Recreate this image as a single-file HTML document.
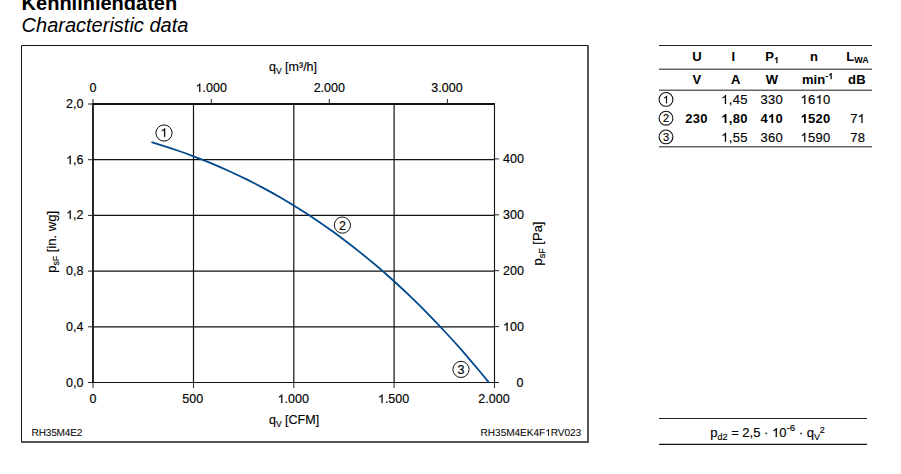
<!DOCTYPE html>
<html><head>
<meta charset="utf-8">
<style>
html,body{margin:0;padding:0;background:#fff;}
body{width:901px;height:474px;position:relative;overflow:hidden;font-family:"Liberation Sans",sans-serif;color:#000;}
.h1{position:absolute;left:21.6px;top:-8px;font-size:20px;font-weight:bold;line-height:22px;white-space:nowrap;}
.h2{position:absolute;left:21.6px;top:14px;font-size:20px;font-style:italic;line-height:22px;white-space:nowrap;}
svg{position:absolute;left:0;top:0;}
svg text{font-family:"Liberation Sans",sans-serif;fill:#000;stroke:#000;stroke-width:0.15px;}
svg g[font-weight="bold"] text{stroke:none;}
.t{}
.s{}
svg text tspan.one{fill:transparent;stroke:none;}
</style>
</head>
<body>
<div class="h1">Kennliniendaten</div>
<div class="h2">Characteristic data</div>

<svg width="901" height="474" viewBox="0 0 901 474">
  <defs>
    <path id="oneR" d="M763,0 L583,0 L583,1102 Q518,1043 412.5,983 Q307,924 214,890 L214,1057 Q382,1133 490,1227 Q598,1320 646,1409 L763,1409 Z"/>
    <path id="oneB" d="M825,0 L544,0 L544,1018 Q390,879 181,813 L181,1058 Q291,1093 415,1186 Q540,1279 590,1409 L825,1409 Z"/>
  </defs>
  <!-- frame -->
  <path d="M21.5,442 V45.5 H588" fill="none" stroke="#111" stroke-width="1"></path>
  <path d="M588,45 V442 H21" fill="none" stroke="#555" stroke-width="2"></path>

  <!-- grid -->
  <g stroke="#111" fill="none">
    <path d="M193.5,104 V382.5 M293.8,104 V382.5 M394.1,104 V382.5" stroke-width="1.2"></path>
    <path d="M93,159.7 H494.4 M93,215.4 H494.4 M93,271.1 H494.4 M93,326.8 H494.4" stroke-width="1.2"></path>
    <path d="M93,382.5 H494.4" stroke-width="1.1"></path>
    <path d="M93,104 H494.4" stroke-width="2"></path>
    <path d="M93,103 V383" stroke-width="1.8"></path>
    <path d="M494.5,103 V383" stroke-width="1.1"></path>
  </g>
  <!-- ticks -->
  <g stroke="#222" fill="none" stroke-width="1">
    <path d="M88,104 H93 M88,159.7 H93 M88,215.4 H93 M88,271.1 H93 M88,326.8 H93 M88,382.5 H93"></path>
    <path d="M494.5,158.9 H499 M494.5,214.8 H499 M494.5,270.7 H499 M494.5,326.6 H499 M494.5,382.5 H499"></path>
    <path d="M93,99 V104 M211.3,99 V104 M329.3,99 V104 M447.4,99 V104"></path>
    <path d="M93,382.5 V388 M193.5,382.5 V388 M293.8,382.5 V388 M394.1,382.5 V388 M494.5,382.5 V388"></path>
  </g>

  <!-- curve -->
  <path d="M151.5,142.2 L160.2,144.8 L168.8,147.6 L177.5,150.5 L186.1,153.5 L194.8,156.8 L203.4,160.1 L212.1,163.6 L220.7,167.3 L229.4,171.2 L238.0,175.2 L246.7,179.4 L255.3,183.8 L264.0,188.4 L272.7,193.1 L281.3,198.0 L290.0,203.2 L298.6,208.5 L307.3,214.0 L315.9,219.7 L324.6,225.7 L333.2,231.8 L341.9,238.2 L350.5,244.8 L359.2,251.6 L367.8,258.6 L376.5,265.8 L385.2,273.3 L393.8,281.0 L402.5,289.0 L411.1,297.2 L419.8,305.7 L428.4,314.4 L437.1,323.3 L445.7,332.5 L454.4,342.0 L463.0,351.7 L471.7,361.8 L480.3,372.0 L489.0,382.6" fill="none" stroke="#00498c" stroke-width="1.8"></path>

  <!-- curve markers -->
  <g fill="#fff" stroke="#111" stroke-width="1">
    <circle cx="164" cy="133" r="8.1"></circle>
    <circle cx="342.4" cy="225.1" r="8.1"></circle>
    <circle cx="461" cy="369.4" r="8.1"></circle>
  </g>
  <g class="t" text-anchor="middle" font-size="12.5">
    <text x="164" y="136.8"><tspan class="one">1</tspan></text>
    <text x="342.4" y="229.5">2</text>
    <text x="461" y="373.7">3</text>
  </g>

  <!-- left axis labels -->
  <g class="t" text-anchor="end" font-size="12.5">
    <text x="83.5" y="107.5">2,0</text>
    <text x="83.5" y="164.2"><tspan class="one">1</tspan>,6</text>
    <text x="83.5" y="218.9"><tspan class="one">1</tspan>,2</text>
    <text x="83.5" y="274.6">0,8</text>
    <text x="83.5" y="331.3">0,4</text>
    <text x="83.5" y="387">0,0</text>
  </g>
  <!-- right axis labels -->
  <g class="t" font-size="12.5">
    <text x="503" y="163.4">400</text>
    <text x="503" y="219.3">300</text>
    <text x="503" y="275.2">200</text>
    <text x="503" y="331.1"><tspan class="one">1</tspan>00</text>
    <text x="516.5" y="387">0</text>
  </g>
  <!-- top axis labels -->
  <g class="t" text-anchor="middle" font-size="12.5">
    <text x="93" y="92">0</text>
    <text x="211.3" y="92"><tspan class="one">1</tspan>.000</text>
    <text x="329.3" y="92">2.000</text>
    <text x="447" y="92">3.000</text>
  </g>
  <!-- bottom axis labels -->
  <g class="t" text-anchor="middle" font-size="12.5">
    <text x="93" y="403">0</text>
    <text x="192.8" y="403">500</text>
    <text x="293.3" y="403"><tspan class="one">1</tspan>.000</text>
    <text x="393.6" y="403"><tspan class="one">1</tspan>.500</text>
    <text x="494" y="403">2.000</text>
  </g>
  <!-- axis titles -->
  <text class="t" x="269" y="71" font-size="12.5">q<tspan font-size="8.5" dy="3">V</tspan><tspan dy="-3"> [m³/h]</tspan></text>
  <text class="t" x="269" y="424" font-size="12.5">q<tspan font-size="8.5" dy="3">V</tspan><tspan dy="-3"> [CFM]</tspan></text>
  <text class="t" transform="translate(55.8,272.8) rotate(-90)" font-size="13">p<tspan font-size="8.8" dy="3">sF</tspan><tspan dy="-3"> [in. wg]</tspan></text>
  <text class="t" transform="translate(541.5,265.5) rotate(-90)" font-size="13">p<tspan font-size="9" dy="3">sF</tspan><tspan dy="-3"> [Pa]</tspan></text>

  <text class="s" x="31.6" y="436" font-size="10.1" letter-spacing="-0.2" style="stroke:none" text-rendering="geometricPrecision">RH35M4E2</text>
  <text class="s" x="480.6" y="436" font-size="10.1" letter-spacing="-0.05" style="stroke:none" text-rendering="geometricPrecision">RH35M4EK4F<tspan class="one">1</tspan>RV023</text>

  <!-- table lines -->
  <g stroke-width="1" fill="none">
    <path d="M659,45.5 H872" stroke="#222"></path>
    <path d="M659,69.2 H872" stroke="#666" stroke-width="1.4"></path>
    <path d="M659,90.3 H872" stroke="#666" stroke-width="1.4"></path>
    <path d="M659,146.8 H872" stroke="#666" stroke-width="1.4"></path>
    <path d="M659,418.5 H867" stroke="#222"></path>
    <path d="M659,444.4 H867" stroke="#111" stroke-width="1.3"></path>
  </g>
  <!-- table text -->
  <g font-size="13" font-weight="bold">
    <text x="692.3" y="60.6">U</text>
    <text x="731.4" y="60.6">I</text>
    <text x="765.2" y="60.6">P<tspan font-size="9" dy="2.6"><tspan class="one">1</tspan></tspan></text>
    <text x="810.1" y="60.6">n</text>
    <text x="846.2" y="60.6">L<tspan font-size="9" dy="2.6">WA</tspan></text>
    <text x="692.6" y="83.8">V</text>
    <text x="731" y="83.8">A</text>
    <text x="765.8" y="83.8">W</text>
    <text x="802" y="83.8">min<tspan font-size="9" dy="-4.5">-<tspan class="one">1</tspan></tspan></text>
    <text x="848" y="83.8" letter-spacing="0.4">dB</text>
  </g>
  <g fill="#fff" stroke="#111" stroke-width="1.1">
    <circle cx="666" cy="99.4" r="6.9"></circle>
    <circle cx="666" cy="118.2" r="6.9"></circle>
    <circle cx="666" cy="136.9" r="6.9"></circle>
  </g>
  <g font-size="11" text-anchor="middle">
    <text x="666" y="103.3"><tspan class="one">1</tspan></text>
    <text x="666" y="122.1">2</text>
    <text x="666" y="140.8">3</text>
  </g>
  <g font-size="13" letter-spacing="0.3">
    <text x="721.2" y="104"><tspan class="one">1</tspan>,45</text>
    <text x="760.4" y="104">330</text>
    <text x="800.5" y="104"><tspan class="one">1</tspan>6<tspan class="one">1</tspan>0</text>
    <text x="721.2" y="141.8"><tspan class="one">1</tspan>,55</text>
    <text x="760.4" y="141.8">360</text>
    <text x="800.5" y="141.8"><tspan class="one">1</tspan>590</text>
    <text x="850.2" y="141.8">78</text>
    <text x="850.2" y="122.9">7<tspan class="one">1</tspan></text>
  </g>
  <g font-size="13" font-weight="bold" letter-spacing="0.3">
    <text x="685.2" y="122.9">230</text>
    <text x="721.2" y="122.9"><tspan class="one">1</tspan>,80</text>
    <text x="760.4" y="122.9">4<tspan class="one">1</tspan>0</text>
    <text x="800.5" y="122.9"><tspan class="one">1</tspan>520</text>
  </g>

  <!-- formula -->
  <text x="710.3" y="437" font-size="13">p<tspan font-size="9" dy="3">d2</tspan><tspan dy="-3"> = 2,5 · <tspan class="one">1</tspan>0</tspan><tspan font-size="9.8" dy="-6">-6</tspan><tspan dy="6"> · q</tspan><tspan font-size="9" dy="3">V</tspan><tspan font-size="9" dx="-0.3" dy="-7">2</tspan></text>
<g class="ones"><use href="#oneR" transform="translate(160.52,136.80) scale(0.00610,-0.00610)" stroke="#000" stroke-width="24.6"></use><use href="#oneR" transform="translate(66.11,164.20) scale(0.00610,-0.00610)" stroke="#000" stroke-width="24.6"></use><use href="#oneR" transform="translate(66.11,218.90) scale(0.00610,-0.00610)" stroke="#000" stroke-width="24.6"></use><use href="#oneR" transform="translate(503.00,331.10) scale(0.00610,-0.00610)" stroke="#000" stroke-width="24.6"></use><use href="#oneR" transform="translate(195.65,92.00) scale(0.00610,-0.00610)" stroke="#000" stroke-width="24.6"></use><use href="#oneR" transform="translate(277.65,403.00) scale(0.00610,-0.00610)" stroke="#000" stroke-width="24.6"></use><use href="#oneR" transform="translate(377.95,403.00) scale(0.00610,-0.00610)" stroke="#000" stroke-width="24.6"></use><use href="#oneR" transform="translate(545.18,436.00) scale(0.00493,-0.00493)"></use><use href="#oneB" transform="translate(773.87,63.20) scale(0.00439,-0.00439)"></use><use href="#oneB" transform="translate(828.13,79.30) scale(0.00439,-0.00439)"></use><use href="#oneR" transform="translate(662.94,103.30) scale(0.00537,-0.00537)" stroke="#000" stroke-width="27.9"></use><use href="#oneR" transform="translate(721.20,104.00) scale(0.00635,-0.00635)" stroke="#000" stroke-width="23.6"></use><use href="#oneR" transform="translate(800.50,104.00) scale(0.00635,-0.00635)" stroke="#000" stroke-width="23.6"></use><use href="#oneR" transform="translate(815.56,104.00) scale(0.00635,-0.00635)" stroke="#000" stroke-width="23.6"></use><use href="#oneR" transform="translate(721.20,141.80) scale(0.00635,-0.00635)" stroke="#000" stroke-width="23.6"></use><use href="#oneR" transform="translate(800.50,141.80) scale(0.00635,-0.00635)" stroke="#000" stroke-width="23.6"></use><use href="#oneR" transform="translate(857.73,122.90) scale(0.00635,-0.00635)" stroke="#000" stroke-width="23.6"></use><use href="#oneB" transform="translate(721.20,122.90) scale(0.00635,-0.00635)"></use><use href="#oneB" transform="translate(767.93,122.90) scale(0.00635,-0.00635)"></use><use href="#oneB" transform="translate(800.50,122.90) scale(0.00635,-0.00635)"></use><use href="#oneR" transform="translate(772.00,437.00) scale(0.00635,-0.00635)" stroke="#000" stroke-width="23.6"></use></g></svg>


</body></html>
